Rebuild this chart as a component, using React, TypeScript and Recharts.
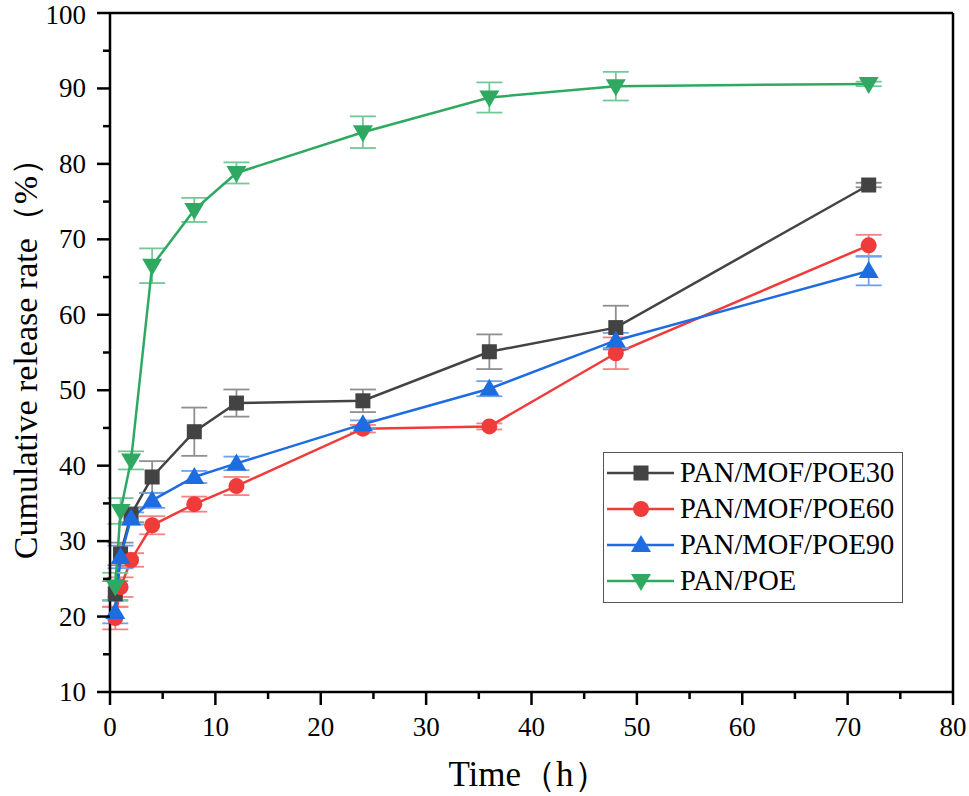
import { CartesianGrid, ErrorBar, Legend, Line, LineChart, ReferenceLine, XAxis, YAxis } from 'recharts'

const times = [0.5, 1, 2, 4, 8, 12, 24, 36, 48, 72]

const poe30 = [23.0, 28.3, 33.5, 38.5, 44.5, 48.3, 48.6, 55.1, 58.3, 77.2]
const poe30Err = [1.7, 1.5, 1.0, 2.1, 3.2, 1.8, 1.5, 2.3, 2.9, 0.3]
const poe60 = [19.8, 23.9, 27.5, 32.1, 34.9, 37.3, 44.9, 45.2, 54.9, 69.2]
const poe60Err = [1.5, 1.3, 0.9, 1.2, 1.0, 1.2, 0.5, 0.4, 2.1, 1.4]
const poe90 = [20.6, 27.9, 33.0, 35.4, 38.5, 40.3, 45.5, 50.2, 56.6, 65.8]
const poe90Err = [1.5, 1.5, 0.8, 1.0, 0.8, 0.9, 0.5, 1.0, 1.0, 1.9]
const panPoe = [24.0, 34.0, 40.7, 66.5, 73.9, 78.8, 84.2, 88.8, 90.3, 90.6]
const panPoeErr = [1.8, 1.7, 1.2, 2.3, 1.6, 1.4, 2.1, 2.0, 1.9, 0.3]

const xTicks = [0, 5, 10, 15, 20, 25, 30, 35, 40, 45, 50, 55, 60, 65, 70, 75, 80]
const yTicks = [10, 15, 20, 25, 30, 35, 40, 45, 50, 55, 60, 65, 70, 75, 80, 85, 90, 95, 100]

const FONT = '"Liberation Serif", "Times New Roman", serif'

type Shape = 'square' | 'circle' | 'up' | 'down'

const SERIES: { key: string; name: string; line: string; err: string; shape: Shape }[] = [
  { key: 's30', name: 'PAN/MOF/POE30', line: '#434343', err: '#8f8f8f', shape: 'square' },
  { key: 's60', name: 'PAN/MOF/POE60', line: '#f03b3b', err: '#f58383', shape: 'circle' },
  { key: 's90', name: 'PAN/MOF/POE90', line: '#1e6de0', err: '#6ea2ea', shape: 'up' },
  { key: 'spoe', name: 'PAN/POE', line: '#2fa962', err: '#72c896', shape: 'down' },
]

const data = times.map((t, i) => ({
  t,
  s30: poe30[i],
  s30e: poe30Err[i],
  s60: poe60[i],
  s60e: poe60Err[i],
  s90: poe90[i],
  s90e: poe90Err[i],
  spoe: panPoe[i],
  spoee: panPoeErr[i],
}))

const Marker = ({ cx, cy, shape, color }: { cx: number; cy: number; shape: Shape; color: string }) => {
  if (shape === 'square') return <rect x={cx - 7.5} y={cy - 7.5} width={15} height={15} fill={color} />
  if (shape === 'circle') return <circle cx={cx} cy={cy} r={8} fill={color} />
  if (shape === 'up')
    return <polygon points={`${cx},${cy - 10} ${cx - 10},${cy + 7} ${cx + 10},${cy + 7}`} fill={color} />
  return <polygon points={`${cx - 10},${cy - 7} ${cx + 10},${cy - 7} ${cx},${cy + 10}`} fill={color} />
}

const XTick = (props: any) => {
  const { x, y, payload } = props
  const major = payload.value % 10 === 0
  return (
    <g>
      <line x1={x} x2={x} y1={y} y2={y + (major ? 13 : 7)} stroke="#000" strokeWidth={2.5} />
      {major && (
        <text x={x} y={y + 44} textAnchor="middle" fontSize={27} fontFamily={FONT} fill="#000">
          {payload.value}
        </text>
      )}
    </g>
  )
}

const YTick = (props: any) => {
  const { x, y, payload } = props
  const major = payload.value % 10 === 0
  // the top label sits a touch lower so it stays inside the page
  const dy = payload.value === 100 ? 11 : 9
  return (
    <g>
      <line x1={x - (major ? 13 : 7)} x2={x} y1={y} y2={y} stroke="#000" strokeWidth={2.5} />
      {major && (
        <text x={x - 24} y={y + dy} textAnchor="end" fontSize={27} fontFamily={FONT} fill="#000">
          {payload.value}
        </text>
      )}
    </g>
  )
}

const YTitle = (props: any) => {
  const vb = props.viewBox
  const cy = vb.y + vb.height / 2
  return (
    <text
      transform={`translate(37, ${cy - 2}) rotate(-90)`}
      textAnchor="middle"
      fontSize={34}
      fontFamily={FONT}
      fill="#000"
    >
      Cumulative release rate（%）
    </text>
  )
}

const XTitle = (props: any) => {
  const vb = props.viewBox
  return (
    <text x={vb.x + vb.width / 2 - 3} y={vb.y + 94} textAnchor="middle" fontSize={35} fontFamily={FONT} fill="#000">
      Time（h）
    </text>
  )
}

const LegendBox = () => (
  <div
    style={{
      width: 298,
      height: 147,
      border: '1px solid #555',
      background: '#fff',
      paddingTop: 2,
      boxSizing: 'content-box',
    }}
  >
    {SERIES.map((s) => (
      <div key={s.key} style={{ display: 'flex', alignItems: 'center', height: 36 }}>
        <svg width={76} height={36} style={{ flex: 'none' }}>
          <line x1={3} x2={70} y1={18} y2={18} stroke={s.line} strokeWidth={2.5} />
          <Marker cx={37} cy={18} shape={s.shape} color={s.line} />
        </svg>
        <span style={{ fontFamily: FONT, fontSize: 28.5, color: '#000', lineHeight: '36px', whiteSpace: 'nowrap' }}>
          {s.name}
        </span>
      </div>
    ))}
  </div>
)

export default function App() {
  return (
    <div style={{ position: 'absolute', left: 0, top: 0, width: 969, height: 796, background: '#fff' }}>
      <LineChart width={969} height={796} data={data} margin={{ top: 13, right: 16, left: 0, bottom: 0 }}>
        <CartesianGrid stroke="none" />
        <XAxis
          dataKey="t"
          type="number"
          domain={[0, 80]}
          ticks={xTicks}
          interval={0}
          height={104}
          tickSize={0}
          tickMargin={0}
          tickLine={false}
          tick={<XTick />}
          axisLine={{ stroke: '#000', strokeWidth: 2.5 }}
          label={<XTitle />}
        />
        <YAxis
          type="number"
          domain={[10, 100]}
          ticks={yTicks}
          interval={0}
          width={110}
          tickSize={0}
          tickMargin={0}
          tickLine={false}
          tick={<YTick />}
          axisLine={{ stroke: '#000', strokeWidth: 2.5 }}
          label={<YTitle />}
        />
        <ReferenceLine y={100} stroke="#000" strokeWidth={2.5} />
        <ReferenceLine x={80} stroke="#000" strokeWidth={2.5} />
        <Legend
          layout="vertical"
          align="center"
          verticalAlign="middle"
          content={<LegendBox />}
          wrapperStyle={{ left: 603, top: 452, width: 'auto' }}
        />
        {SERIES.map((s) => (
          <Line
            key={s.key}
            dataKey={s.key}
            name={s.name}
            type="linear"
            stroke={s.line}
            strokeWidth={2.5}
            isAnimationActive={false}
            dot={(p: any) => <Marker key={`${s.key}-${p.index}`} cx={p.cx} cy={p.cy} shape={s.shape} color={s.line} />}
            activeDot={false}
          >
            <ErrorBar dataKey={`${s.key}e`} direction="y" width={13} stroke={s.err} strokeWidth={1.8} />
          </Line>
        ))}
      </LineChart>
    </div>
  )
}
